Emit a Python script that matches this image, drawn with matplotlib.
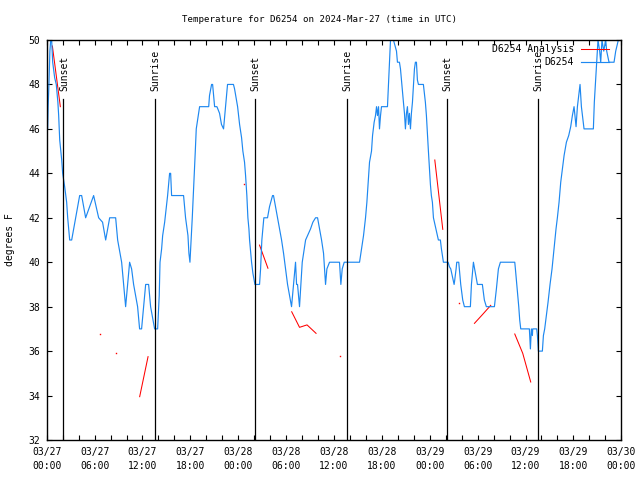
import numpy as np
import matplotlib
matplotlib.use('Agg')
import matplotlib.pyplot as plt

# hours since 2024-03-27 00:00 UTC, temperature in F
hours = [0.0, 0.12, 0.18, 0.28, 0.4, 0.5, 0.62, 0.75, 1.0, 1.2, 1.4, 1.5, 1.63, 1.88, 2.0,
         2.25, 2.5, 2.63, 2.88, 3.13, 3.63, 4.13, 4.38, 4.88, 5.88, 6.51, 7.0, 7.39, 7.89,
         8.64, 8.89, 9.39, 9.64, 9.89, 10.14, 10.39, 10.64, 10.89, 11.39, 11.64, 11.89,
         12.14, 12.4, 12.77, 13.02, 13.27, 13.52, 13.9, 14.1, 14.2, 14.4, 14.53, 14.78,
         15.15, 15.4, 15.53, 15.65, 17.15, 17.4, 17.7, 17.82, 17.95, 18.1, 18.24, 18.37,
         18.5, 18.62, 18.74, 19.0, 19.16, 20.3, 20.4, 20.66, 20.79, 21.04, 21.33, 21.66,
         21.9, 22.16, 22.41, 22.66, 23.4, 23.54, 23.92, 24.17, 24.42, 24.58, 24.79, 24.92,
         25.08, 25.21, 25.34, 25.42, 25.67, 25.84, 26.09, 26.67, 26.8, 26.96, 27.21, 27.67,
         27.92, 28.3, 28.42, 28.67, 28.93, 29.18, 29.43, 29.68, 29.93, 30.18, 30.43, 30.68,
         30.93, 31.18, 31.31, 31.43, 31.68, 31.85, 32.02, 32.44, 32.69, 33.06, 33.35, 33.69,
         33.94, 34.19, 34.44, 34.69, 34.94, 35.11, 35.44, 36.69, 36.86, 37.03, 37.28, 39.2,
         39.45, 39.7, 39.95, 40.12, 40.28, 40.45, 40.7, 40.83, 41.03, 41.2, 41.33, 41.45,
         41.58, 41.7, 41.83, 41.95, 42.7, 42.83, 42.95, 43.08, 43.45, 43.83, 43.95, 44.2,
         44.33, 44.45, 44.58, 44.7, 44.83, 44.95, 45.08, 45.2, 45.33, 45.45, 45.58, 45.7,
         45.83, 45.95, 46.08, 46.2, 46.33, 46.45, 46.58, 47.2, 47.33, 47.45, 47.58, 47.7,
         47.83, 47.96, 48.08, 48.2, 48.33, 48.46, 48.71, 48.96, 49.08, 49.33, 49.46, 49.71,
         50.3, 50.46, 50.63, 50.92, 51.05, 51.13, 51.3, 51.38, 51.63, 51.76, 51.88, 52.13,
         52.34, 53.09, 53.22, 53.47, 53.72, 53.97, 54.59, 54.84, 55.09, 56.1, 56.35, 56.6,
         56.85, 58.65, 58.73, 58.9, 59.07, 59.15, 59.27, 59.4, 60.48, 60.61, 60.73, 60.86,
         60.9, 61.4, 61.49, 61.61, 62.11, 62.24, 62.4, 62.61, 62.82, 63.07, 63.32, 63.57,
         63.82, 63.99, 64.2, 64.41, 64.62, 64.83, 65.12, 65.41, 65.66, 65.87, 66.08, 66.33,
         66.5, 66.83, 67.0, 67.33, 68.5, 68.62, 68.75, 68.92, 69.08, 69.29, 69.42, 69.58,
         69.8, 70.04, 70.17, 70.46, 71.09, 71.3, 71.63, 71.95]
temps = [46, 46, 47, 48, 49.5, 50, 50, 49, 48.3, 48, 47.2, 46.6, 45.5, 44.6, 44,
         43.4, 42.7, 42, 41, 41, 42, 43, 43, 42, 43, 42, 41.8, 41, 42,
         42, 41, 40, 39, 38, 39, 40, 39.7, 39, 38, 37, 37,
         38, 39, 39, 38, 37.5, 37, 37, 38.5, 40, 40.6, 41.2, 41.8,
         43, 44, 44, 43, 43, 42, 41.2, 40.4, 40, 41, 42, 43,
         44, 45, 46, 46.6, 47, 47, 47.5, 48, 48, 47, 47, 46.7,
         46.2, 46, 47, 48, 48, 47.8, 47, 46.2, 45.6, 45, 44.5, 43.9,
         43, 42, 41.5, 41, 40, 39.5, 39, 39, 39.7, 41, 42, 42,
         42.5, 43, 43, 42.5, 42, 41.5, 41, 40.4, 39.7, 39, 38.5, 38,
         39, 40, 39, 39, 38, 39, 40, 41, 41.2, 41.5, 41.8, 42,
         42, 41.5, 41, 40.4, 39, 39.7, 40, 40, 39, 39.7, 40, 40,
         40.6, 41.2, 42, 42.7, 43.6, 44.5, 45, 45.7, 46.3, 46.6, 47, 46.6,
         47, 46, 46.6, 47, 47, 48, 49, 50, 50, 49.5, 49, 49,
         48.7, 48.2, 47.7, 47.2, 46.7, 46, 46.7, 47, 46.2, 46.7, 46, 46.7,
         47.2, 47.9, 48.7, 49, 49, 48.2, 48, 48, 47.6, 47.2, 46.6, 45.8,
         45, 44.2, 43.5, 43, 42.7, 42, 41.6, 41.2, 41, 41, 40.6, 40,
         40, 39.8, 39.7, 39.2, 39, 39.2, 39.7, 40, 40, 39.5, 39, 38.3,
         38, 38, 39, 40, 39.5, 39, 39, 38.3, 38, 38, 38.8, 39.7,
         40, 40, 39.7, 39, 38.3, 38, 37.4, 37, 37, 36.1, 37, 36.7,
         37, 37, 36.7, 36, 36, 36.7, 37, 37.6, 38.2, 39, 39.7, 40.6,
         41.5, 42, 42.7, 43.6, 44.2, 44.8, 45.4, 45.7, 46.1, 46.6, 47, 46.1,
         47, 48, 47, 46, 46, 47.2, 48, 49, 50, 49.5, 49, 50,
         49.5, 50, 49.5, 49, 49, 49.5, 50, 50]

# analysis, gaps as nan
ana_hours = [0.71, 1.71, np.nan, 11.65, 12.7, np.nan, 26.67, 27.72, np.nan,
             30.7, 31.68, 32.62, 33.75, np.nan, 48.63, 49.63, np.nan,
             53.6, 54.62, 55.64, np.nan, 58.65, 59.65, 60.65]
ana_temps = [49.73, 47.0, np.nan, 33.95, 35.75, np.nan, 40.77, 39.73, np.nan,
             37.77, 37.07, 37.18, 36.8, np.nan, 44.6, 41.48, np.nan,
             37.25, 37.65, 38.06, np.nan, 36.77, 35.9, 34.61]
dot_hours = [6.64, 8.64, 24.75, 36.73, 51.63]
dot_temps = [36.76, 35.9, 43.52, 35.77, 38.15]

sun_hours = [2.04, 13.56, 26.08, 37.6, 50.1, 61.5]
sun_labels = ['Sunset', 'Sunrise', 'Sunset', 'Sunrise', 'Sunset', 'Sunrise']

tick_hours = list(range(0, 73, 6))
tick_labels = ['03/27\n00:00', '03/27\n06:00', '03/27\n12:00', '03/27\n18:00',
               '03/28\n00:00', '03/28\n06:00', '03/28\n12:00', '03/28\n18:00',
               '03/29\n00:00', '03/29\n06:00', '03/29\n12:00', '03/29\n18:00',
               '03/30\n00:00']

plt.rcParams['font.family'] = ['DejaVu Sans Mono']
plt.rcParams['font.size'] = 7

fig = plt.figure(figsize=(6.4, 4.8), dpi=100)
ax = fig.add_axes([46.7/640, 40/480, 574.6/640, 400/480])

ax.plot(ana_hours, ana_temps, color='red', lw=0.75, label='D6254 Analysis')
ax.plot(dot_hours, dot_temps, color='red', ls='none', marker='s', ms=1.0, mew=0)
ax.plot(hours, temps, color='#1e88f0', lw=0.85, label='D6254')

for h, lab in zip(sun_hours, sun_labels):
    ax.axvline(h, ymax=0.8525, color='black', lw=0.9)
    ax.text(h + 0.12, 0.872, lab, rotation=90, ha='center', va='bottom',
            transform=ax.get_xaxis_transform())

ax.set_xlim(0, 72)
ax.set_ylim(32, 50)
ax.set_xticks(np.arange(0, 73, 2))
ax.set_xticklabels([tick_labels[tick_hours.index(t)] if t in tick_hours else ''
                    for t in range(0, 73, 2)], linespacing=1.5)
ax.set_yticks(range(32, 51, 2))
ax.tick_params(direction='in', length=3.3, width=0.8, top=True, right=True, pad=5)
for s in ax.spines.values():
    s.set_linewidth(1)

ax.legend(loc='upper right', bbox_to_anchor=(0.979, 0.99), frameon=False,
          markerfirst=False, handlelength=2.9, handletextpad=0.7,
          labelspacing=0.35, borderpad=0, borderaxespad=0)

fig.text(0.5, 1 - 19/480, 'Temperature for D6254 on 2024-Mar-27 (time in UTC)',
         ha='center', va='center', fontsize=6.6)
fig.text(10/640, 240/480, 'degrees F', rotation=90, ha='center', va='center')

fig.savefig('out.png', dpi=100)
